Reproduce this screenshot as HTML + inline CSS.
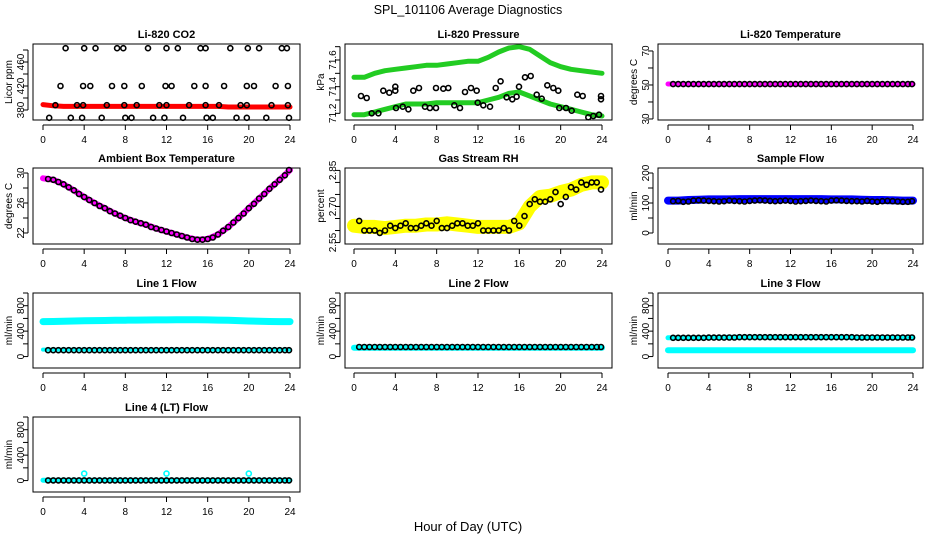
<!DOCTYPE html>
<html><head><meta charset="utf-8">
<style>
html,body{margin:0;padding:0;background:#fff;}
svg{display:block;font-family:"Liberation Sans",sans-serif;}
</style></head>
<body>
<svg id="chart" width="936" height="540" viewBox="0 0 936 540">
<text x="468" y="14" text-anchor="middle" font-size="12.5">SPL_101106  Average Diagnostics</text>
<text x="468" y="531" text-anchor="middle" font-size="13">Hour of Day (UTC)</text>
</svg>
<script>
const hourly = [0,1,2,3,4,5,6,7,8,9,10,11,12,13,14,15,16,17,18,19,20,21,22,23,24];
const halfHours = [0.5,1,1.5,2,2.5,3,3.5,4,4.5,5,5.5,6,6.5,7,7.5,8,8.5,9,9.5,10,10.5,11,11.5,12,12.5,13,13.5,14,14.5,15,15.5,16,16.5,17,17.5,18,18.5,19,19.5,20,20.5,21,21.5,22,22.5,23,23.5,23.9];
const xTicks = [0,4,8,12,16,20,24];

// CO2
const co2Band = [389,387,386,386,386,386,386,386,386,386,386,386,386,386,386,386,386,386,385,385,385,385,385,385,385];
const co2PtHours = [2.2,4.0,5.1,7.2,7.8,10.2,12.0,13.1,15.3,15.8,18.2,19.9,21.0,23.2,23.7,
 1.7,3.9,4.6,6.7,7.9,9.6,11.9,12.5,14.7,15.8,17.6,19.8,20.5,22.6,23.8,
 1.2,3.3,3.9,6.2,7.9,9.1,11.3,12.0,14.2,15.8,17.1,19.2,19.8,22.2,23.8,
 0.6,2.7,3.8,5.7,8.0,8.6,10.7,11.8,13.6,15.9,16.5,18.8,19.8,21.7,23.9];
const co2PtVals = [483,483,483,483,483,483,483,483,483,483,483,483,483,483,483,
 420,420,420,420,420,420,420,420,420,420,420,420,420,420,420,
 388,388,388,388,388,388,388,388,388,388,388,388,388,388,388,
 367,367,367,367,367,367,367,367,367,367,367,367,367,367,367];

// Pressure
const presUpper = [71.47,71.47,71.50,71.52,71.53,71.54,71.55,71.56,71.56,71.57,71.58,71.59,71.59,71.62,71.66,71.69,71.70,71.68,71.63,71.58,71.55,71.53,71.52,71.51,71.50];
const presLower = [71.19,71.19,71.21,71.23,71.25,71.27,71.27,71.27,71.28,71.28,71.28,71.28,71.28,71.30,71.32,71.35,71.36,71.33,71.30,71.27,71.25,71.23,71.21,71.19,71.18];
const presPtHours = [0.68,1.23,1.71,2.36,2.84,3.42,4.0,4.0,4.06,4.71,5.26,5.74,6.29,6.87,7.35,7.94,7.94,8.64,9.13,9.71,10.26,10.74,11.32,11.87,11.97,12.51,13.16,13.71,14.19,14.77,15.32,15.74,15.97,16.55,17.1,17.68,18.16,18.71,19.29,19.77,19.87,20.52,21.07,21.61,22.13,22.67,23.16,23.71,23.9,23.9];
const presPtVals = [71.33,71.315,71.20,71.20,71.37,71.355,71.40,71.37,71.24,71.25,71.23,71.37,71.39,71.25,71.24,71.39,71.24,71.385,71.39,71.26,71.24,71.36,71.39,71.37,71.28,71.26,71.25,71.39,71.44,71.32,71.305,71.325,71.40,71.47,71.48,71.34,71.31,71.41,71.39,71.37,71.24,71.24,71.22,71.34,71.33,71.17,71.18,71.19,71.33,71.305];

// Li-820 temperature
const liTempBand = [50.6,50.6,50.5,50.5,50.5,50.5,50.5,50.5,50.5,50.5,50.5,50.5,50.5,50.5,50.5,50.5,50.5,50.5,50.5,50.5,50.5,50.5,50.5,50.5,50.5];
const liTempPts = [50.5,50.5,50.5,50.5,50.5,50.5,50.5,50.5,50.5,50.5,50.5,50.5,50.5,50.5,50.5,50.5,50.5,50.5,50.5,50.5,50.5,50.5,50.5,50.5,50.5,50.5,50.5,50.5,50.5,50.5,50.5,50.5,50.5,50.5,50.5,50.5,50.5,50.5,50.5,50.5,50.5,50.5,50.5,50.5,50.5,50.5,50.5,50.5];

// Ambient box temperature
const ambBand = [29.3,29.1,28.5,27.7,26.8,26.0,25.3,24.6,24.0,23.5,23.1,22.6,22.2,21.8,21.4,21.1,21.2,21.8,22.8,24.0,25.3,26.6,27.9,29.1,30.4];
const ambPts = [29.2,29.1,28.8,28.5,28.1,27.7,27.2,26.8,26.4,26.0,25.6,25.3,24.9,24.6,24.3,24.0,23.7,23.5,23.3,23.1,22.8,22.6,22.4,22.2,22.0,21.8,21.6,21.4,21.2,21.1,21.1,21.2,21.4,21.8,22.3,22.8,23.4,24.0,24.6,25.3,25.9,26.6,27.2,27.9,28.5,29.1,29.7,30.4];

// Gas stream RH
const rhBand = [2.62,2.615,2.615,2.61,2.615,2.62,2.62,2.625,2.625,2.63,2.625,2.62,2.615,2.615,2.615,2.615,2.63,2.70,2.74,2.745,2.76,2.77,2.79,2.80,2.80];
const rhPts = [2.64,2.60,2.60,2.60,2.59,2.60,2.62,2.61,2.62,2.63,2.61,2.61,2.62,2.63,2.62,2.64,2.61,2.61,2.62,2.63,2.63,2.62,2.62,2.63,2.60,2.60,2.60,2.60,2.61,2.60,2.64,2.62,2.66,2.71,2.73,2.72,2.72,2.73,2.76,2.71,2.74,2.78,2.77,2.80,2.79,2.80,2.80,2.77];

// Sample flow
const sampBand = [108,108,110,111,112,112,112,113,113,113,113,113,113,113,113,113,112,112,112,111,110,110,109,108,108];
const sampPts = [106,107,104,105,108,109,108,107,106,105,106,108,107,106,105,107,108,109,108,107,106,107,108,107,105,106,107,108,107,106,105,108,109,108,107,106,106,105,107,105,104,106,107,106,105,104,104,106];

// Line 1 flow
const l1Band = [550,552,555,560,562,565,568,570,572,574,575,576,577,578,578,578,576,574,570,565,560,555,552,550,550];
const l1Low = [110,110,110,110,110,110,110,110,110,110,110,110,110,110,110,110,110,110,110,110,110,110,110,110,110];
const l1Pts = [100,100,100,100,100,100,100,100,100,100,100,100,100,100,100,100,100,100,100,100,100,100,100,100,100,100,100,100,100,100,100,100,100,100,100,100,100,100,100,100,100,100,100,100,100,100,100,100];

// Line 2 flow
const l2Band = [140,140,140,140,140,140,140,140,140,140,140,140,140,140,140,140,140,140,140,140,140,140,140,140,140];
const l2Pts = [150,150,150,150,150,150,150,150,150,150,150,150,150,150,150,150,150,150,150,150,150,150,150,150,150,150,150,150,150,150,150,150,150,150,150,150,150,150,150,150,150,150,150,150,150,150,150,150];

// Line 3 flow
const l3Band = [100,100,100,100,100,100,100,100,100,100,100,100,100,100,100,100,100,100,100,100,100,100,100,100,100];
const l3High = [295,295,295,295,300,300,305,305,305,305,305,305,305,305,305,305,305,305,300,300,300,300,300,300,300];
const l3Pts = [295,295,295,295,295,295,295,298,298,298,298,300,300,305,305,305,305,305,305,305,305,305,305,305,305,305,305,305,305,305,305,305,305,305,305,305,300,300,300,300,300,300,300,300,300,300,300,300];

// Line 4 flow
const l4Band = [5,5,5,5,5,5,5,5,5,5,5,5,5,5,5,5,5,5,5,5,5,5,5,5,5];
const l4Pts = [3,3,3,3,3,3,3,3,3,3,3,3,3,3,3,3,3,3,3,3,3,3,3,3,3,3,3,3,3,3,3,3,3,3,3,3,3,3,3,3,3,3,3,3,3,3,3,3];
const l4OutHours = [4,12,20];
const l4OutVals = [110,110,110];

const NS = "http://www.w3.org/2000/svg";
const svg = document.getElementById('chart');
const cols = [{l:33,r:300,x0:43,x1:290,yl:9},{l:345,r:612,x0:354,x1:602,yl:321},{l:658,r:923,x0:668,x1:913,yl:634}];
const rows = [{t:44,b:120},{t:168,b:244},{t:293,b:368},{t:417,b:492}];

function mk(tag, attrs, parent){
  const e = document.createElementNS(NS, tag);
  for (const k in attrs) e.setAttribute(k, attrs[k]);
  parent.appendChild(e);
  return e;
}

function panel(ci, ri, name, title, ylab, ylim, ticks, labels, series){
  const c = cols[ci], r = rows[ri];
  const g = mk('g', {}, svg);
  
  
  const xs = h => c.x0 + h * (c.x1 - c.x0) / 24;
  const ys = v => r.b - (v - ylim[0]) / (ylim[1] - ylim[0]) * (r.b - r.t);
  const tt = mk('text', {x:(c.l+c.r)/2, y:r.t-6, 'text-anchor':'middle', 'font-size':11, 'font-weight':'bold'}, g);
  tt.textContent = title;
  
  
  const yl = mk('text', {x:0, y:0, 'text-anchor':'middle', 'font-size':10, transform:`translate(${c.yl+3},${(r.t+r.b)/2}) rotate(-90)`}, g);
  yl.textContent = ylab;
  
  
  const pg = mk('g', {}, g);
  
  
  series.forEach(s => {
    if (s.type === 'band') {
      const pts = s.hours.map((h,i) => xs(h).toFixed(1) + ',' + ys(s.vals[i]).toFixed(1)).join(' ');
      const pl = mk('polyline', {points:pts, fill:'none', stroke:s.color, 'stroke-width':s.w, 'stroke-linejoin':'round', 'stroke-linecap':'round'}, pg);
      
      
    } else {
      s.hours.forEach((h,i) => {
        const cc = mk('circle', {cx:xs(h).toFixed(1), cy:ys(s.vals[i]).toFixed(1), r:2.5, fill:'none', stroke:s.color, 'stroke-width':1.6}, pg);
        
        
      });
    }
  });
  const box = mk('rect', {x:c.l, y:r.t, width:c.r-c.l, height:r.b-r.t, fill:'none', stroke:'#000', 'stroke-width':1}, g);
  
  
  const xa = mk('g', {}, g);
  
  
  mk('line', {x1:xs(0), x2:xs(24), y1:r.b+5, y2:r.b+5, stroke:'#000'}, xa);
  xTicks.forEach(t => {
    mk('line', {x1:xs(t), x2:xs(t), y1:r.b+5, y2:r.b+10, stroke:'#000'}, xa);
    const lt = mk('text', {x:xs(t), y:r.b+23, 'text-anchor':'middle', 'font-size':10}, xa);
    lt.textContent = t;
    
    
  });
  const ya = mk('g', {}, g);
  
  
  mk('line', {x1:c.l-5, x2:c.l-5, y1:ys(ticks[0]), y2:ys(ticks[ticks.length-1]), stroke:'#000'}, ya);
  ticks.forEach(t => {
    mk('line', {x1:c.l-10, x2:c.l-5, y1:ys(t), y2:ys(t), stroke:'#000'}, ya);
  });
  labels.forEach(t => {
    const lt = mk('text', {x:0, y:0, 'text-anchor':'middle', 'font-size':10, transform:`translate(${c.l-9},${ys(t)}) rotate(-90)`}, ya);
    lt.textContent = t;
    
    
  });
}

panel(0,0,'co2','Li-820 CO2','Licor ppm',[363.3,490],[380,400,420,440,460,480],[380,420,460],[
  {type:'band',id:'co2-band',hours:hourly,vals:co2Band,color:'#ff0000',w:5},
  {type:'pts',id:'co2-avg',hours:co2PtHours,vals:co2PtVals,color:'#000'}]);
panel(1,0,'pressure','Li-820 Pressure','kPa',[71.15,71.72],[71.2,71.3,71.4,71.5,71.6,71.7],['71.2','71.4','71.6'],[
  {type:'band',id:'pressure-upper-band',hours:hourly,vals:presUpper,color:'#22cc22',w:5},
  {type:'band',id:'pressure-lower-band',hours:hourly,vals:presLower,color:'#22cc22',w:5},
  {type:'pts',id:'pressure-avg',hours:presPtHours,vals:presPtVals,color:'#000'}]);
panel(2,0,'li820-temp','Li-820 Temperature','degrees C',[29.4,74.1],[30,40,50,60,70],[30,50,70],[
  {type:'band',id:'li820-temp-band',hours:hourly,vals:liTempBand,color:'#ff00ff',w:5},
  {type:'pts',id:'li820-temp-avg',hours:halfHours,vals:liTempPts,color:'#000'}]);
panel(0,1,'ambient-temp','Ambient Box Temperature','degrees C',[20.53,30.67],[22,24,26,28,30],[22,26,30],[
  {type:'band',id:'ambient-temp-band',hours:hourly,vals:ambBand,color:'#ff00ff',w:6},
  {type:'pts',id:'ambient-temp-avg',hours:halfHours,vals:ambPts,color:'#000'}]);
panel(1,1,'gas-rh','Gas Stream RH','percent',[2.544,2.86],[2.55,2.6,2.65,2.7,2.75,2.8,2.85],['2.55','2.70','2.85'],[
  {type:'band',id:'gas-rh-band',hours:hourly,vals:rhBand,color:'#ffff00',w:14},
  {type:'pts',id:'gas-rh-avg',hours:halfHours,vals:rhPts,color:'#000'}]);
panel(2,1,'sample-flow','Sample Flow','ml/min',[-36.7,216.7],[0,50,100,150,200],[0,100,200],[
  {type:'band',id:'sample-flow-band',hours:hourly,vals:sampBand,color:'#0000ff',w:8},
  {type:'pts',id:'sample-flow-avg',hours:halfHours,vals:sampPts,color:'#000'}]);
panel(0,2,'line1-flow','Line 1 Flow','ml/min',[-180,1000],[0,200,400,600,800,1000],[0,400,800],[
  {type:'band',id:'line1-high-band',hours:hourly,vals:l1Band,color:'#00ffff',w:7},
  {type:'band',id:'line1-low-band',hours:hourly,vals:l1Low,color:'#00ffff',w:4},
  {type:'pts',id:'line1-avg',hours:halfHours,vals:l1Pts,color:'#000'}]);
panel(1,2,'line2-flow','Line 2 Flow','ml/min',[-180,1000],[0,200,400,600,800,1000],[0,400,800],[
  {type:'band',id:'line2-band',hours:hourly,vals:l2Band,color:'#00ffff',w:6},
  {type:'pts',id:'line2-avg',hours:halfHours,vals:l2Pts,color:'#000'}]);
panel(2,2,'line3-flow','Line 3 Flow','ml/min',[-180,1000],[0,200,400,600,800,1000],[0,400,800],[
  {type:'band',id:'line3-high-band',hours:hourly,vals:l3High,color:'#00ffff',w:5},
  {type:'band',id:'line3-low-band',hours:hourly,vals:l3Band,color:'#00ffff',w:6},
  {type:'pts',id:'line3-avg',hours:halfHours,vals:l3Pts,color:'#000'}]);
panel(0,3,'line4-flow','Line 4 (LT) Flow','ml/min',[-180,1000],[0,200,400,600,800,1000],[0,400,800],[
  {type:'band',id:'line4-band',hours:hourly,vals:l4Band,color:'#00ffff',w:5},
  {type:'pts',id:'line4-outlier',hours:l4OutHours,vals:l4OutVals,color:'#00ffff'},
  {type:'pts',id:'line4-avg',hours:halfHours,vals:l4Pts,color:'#000'}]);
</script>
</body></html>
